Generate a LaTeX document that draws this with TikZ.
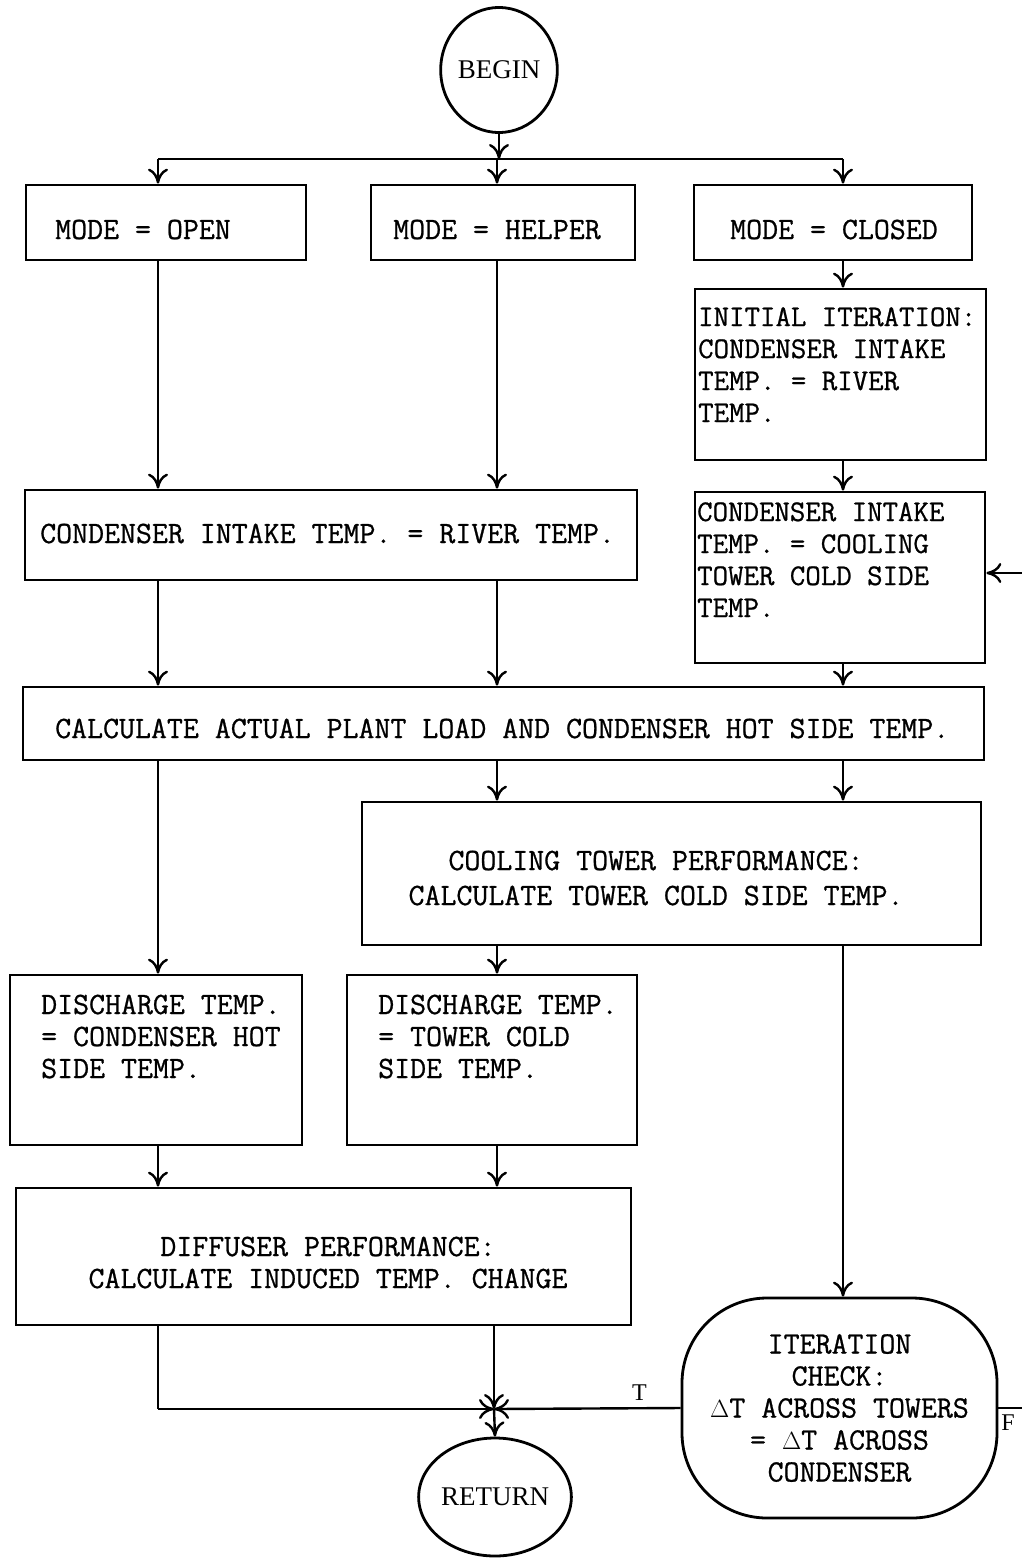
\documentclass[tikz,border=0pt]{standalone}
\usepackage{fontspec}
\setmainfont{Liberation Serif}
\setmonofont[FakeBold=0.8]{Latin Modern Mono}
\usetikzlibrary{arrows.meta,shapes.geometric}
\begin{document}
\begin{tikzpicture}[x=1pt,y=-1pt,
  blk/.style n args={2}{draw,line width=2.8pt,rectangle,inner sep=0pt,minimum width=#1,minimum height=#2},
  oval/.style n args={2}{draw,line width=2.8pt,ellipse,inner sep=0pt,minimum width=#1,minimum height=#2,font=\fontsize{27}{30}\selectfont},
  txt/.style={font=\ttfamily\fontsize{31}{32}\selectfont,inner sep=0pt,align=left,anchor=base west},
  ntxt/.style={font=\ttfamily\fontsize{30}{32}\selectfont,inner sep=0pt,align=left,anchor=base west},
  ctxt/.style={font=\ttfamily\fontsize{31}{35}\selectfont,inner sep=0pt,align=center,anchor=base},
  lbl/.style={font=\fontsize{24}{28}\selectfont,inner sep=0pt},
  ln/.style={line width=2.4pt},
  arr/.style={line width=2.4pt,-{Computer Modern Rightarrow[length=15pt,width=20pt,line width=2.4pt]}}
]
\useasboundingbox (0,0) rectangle (1022,1558);
\fill[white] (0,0) rectangle (1022,1558);

% nodes
\node[oval={116pt}{125pt}] (begin) at (499,70) {BEGIN};
\node[blk={280pt}{75pt}] (open) at (166,222.5) {};
\node[blk={264pt}{75pt}] (helper) at (503,222.5) {};
\node[blk={278pt}{75pt}] (closed) at (833,222.5) {};
\node[blk={291pt}{171pt}] (initial) at (840.5,374.5) {};
\node[blk={290pt}{171pt}] (intake) at (840,577.5) {};
\node[blk={612pt}{90pt}] (river) at (331,535) {};
\node[blk={961pt}{73pt}] (calc) at (503.5,723.5) {};
\node[blk={619pt}{143pt}] (tower) at (671.5,873.5) {};
\node[blk={292pt}{170pt}] (dis1) at (156,1060) {};
\node[blk={290pt}{170pt}] (dis2) at (492,1060) {};
\node[blk={615pt}{137pt}] (diff) at (323.5,1256.5) {};
\node[draw,line width=2.8pt,rectangle,rounded corners=85pt,inner sep=0pt,
      minimum width=315pt,minimum height=220pt,
      font=\ttfamily\fontsize{31}{32}\selectfont,align=center] (check) at (839.5,1408)
      {ITERATION\\CHECK:\\$\Delta$T ACROSS TOWERS\\= $\Delta$T ACROSS\\CONDENSER};
\node[oval={124pt}{118pt}] (ret) at (495,1497) {RETURN};

% texts (base anchor = baseline of last line)
\node[txt] (topen) at (55,239) {MODE = OPEN};
\node[txt] (thelper) at (393,239) {MODE = HELPER};
\node[txt] (tclosed) at (730,239) {MODE = CLOSED};
\node[ntxt] (tinitial) at (698,422) {INITIAL ITERATION:\\CONDENSER INTAKE\\TEMP. = RIVER\\TEMP.};
\node[ntxt] (tintake) at (697,617) {CONDENSER INTAKE\\TEMP. = COOLING\\TOWER COLD SIDE\\TEMP.};
\node[txt] (triver) at (40,543) {CONDENSER INTAKE TEMP. = RIVER TEMP.};
\node[txt] (tcalc) at (55,738) {CALCULATE ACTUAL PLANT LOAD AND CONDENSER HOT SIDE TEMP.};
\node[ctxt] (ttower) at (656,905) {COOLING TOWER PERFORMANCE:\\CALCULATE TOWER COLD SIDE TEMP.};
\node[txt] (tdis1) at (41,1078) {DISCHARGE TEMP.\\= CONDENSER HOT\\SIDE TEMP.};
\node[txt] (tdis2) at (378,1078) {DISCHARGE TEMP.\\= TOWER COLD\\SIDE TEMP.};
\node[ctxt,font=\ttfamily\fontsize{31}{32}\selectfont] (tdiff) at (328,1288) {DIFFUSER PERFORMANCE:\\CALCULATE INDUCED TEMP. CHANGE};

% coordinates
\coordinate (split) at (499,159);
\coordinate (cL) at (158,159);
\coordinate (cM) at (497,159);
\coordinate (cR) at (843,159);
\coordinate (merge) at (494,1409);
\coordinate (fend) at (1022,1408);
\coordinate (loopin) at (1022,573);

% connectors
\draw[arr] (begin.south) -- (split);
\draw[ln] (cL) -- (cR);
\draw[arr] (cL) -- (open.north -| cL);
\draw[arr] (cM) -- (helper.north -| cM);
\draw[arr] (cR) -- (closed.north -| cR);
\draw[arr] (open.south -| cL) -- (river.north -| cL);
\draw[arr] (helper.south -| cM) -- (river.north -| cM);
\draw[arr] (closed.south -| cR) -- (initial.north -| cR);
\draw[arr] (initial.south -| cR) -- (intake.north -| cR);
\draw[arr] (intake.south -| cR) -- (calc.north -| cR);
\draw[arr] (river.south -| cL) -- (calc.north -| cL);
\draw[arr] (river.south -| cM) -- (calc.north -| cM);
\draw[arr] (calc.south -| cL) -- (dis1.north -| cL);
\draw[arr] (calc.south -| cM) -- (tower.north -| cM);
\draw[arr] (calc.south -| cR) -- (tower.north -| cR);
\draw[arr] (tower.south -| cM) -- (dis2.north -| cM);
\draw[arr] (tower.south -| cR) -- (check.north -| cR);
\draw[arr] (dis1.south -| cL) -- (diff.north -| cL);
\draw[arr] (dis2.south -| cM) -- (diff.north -| cM);
\draw[ln] (diff.south -| cL) -- (merge -| cL);
\draw[arr] (merge -| cL) -- (merge);
\draw[arr] (diff.south -| merge) -- (merge);
\draw[arr] (check.west) -- node[lbl,pos=0.22,above=7pt] (tT) {T} (merge);
\draw[arr] (merge) -- (ret.north);
\draw[ln] (check.east) -- (fend);
\node[lbl] (tF) at (1008,1423) {F};
\draw[arr] (loopin) -- (intake.east |- loopin);
\end{tikzpicture}
\end{document}
